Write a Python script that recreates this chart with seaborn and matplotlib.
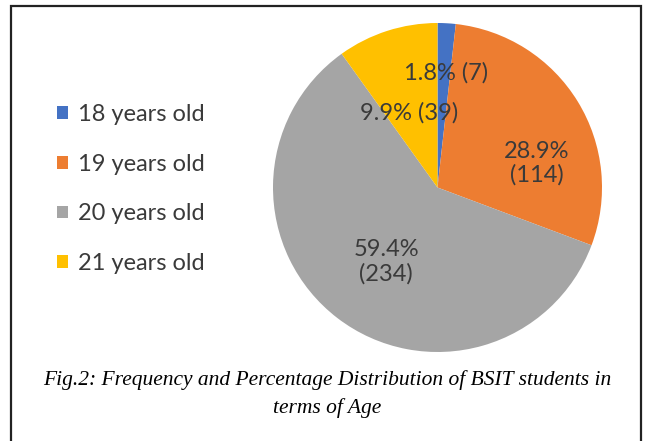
import numpy as np
import matplotlib
matplotlib.use("Agg")
import matplotlib.pyplot as plt
from matplotlib.patches import Rectangle
import seaborn as sns

# data
ages = ["18 years old", "19 years old", "20 years old", "21 years old"]
counts = [7, 114, 234, 39]
percents = [1.8, 28.9, 59.4, 9.9]
colors = ["#4472C4", "#ED7D31", "#A5A5A5", "#FFC000"]

sns.set_theme(style="white")
plt.rcParams["font.family"] = ["Lato", "DejaVu Sans"]

fig = plt.figure(figsize=(6.46, 4.41), dpi=100)
W, H = 646, 441

# pie axes: centre ~(437.5,187.5), radius ~164.5 px
ax = fig.add_axes([273 / W, (H - 352) / H, 329 / W, 329 / H])
wedges, _ = ax.pie(counts, colors=colors, startangle=90, counterclock=False,
                   radius=1.0, wedgeprops=dict(linewidth=0))
ax.set_xlim(-1.0, 1.0)
ax.set_ylim(-1.0, 1.0)
ax.set_aspect("equal")
ax.axis("off")
for w in wedges:
    w.set_clip_on(False)

# data labels (excel "best fit" style placement)
lab_r = [0.70, 0.62, 0.55, 0.485]
lab_da = [-1, -17.7, 2.8, 3]
for w, p, c, r, da in zip(wedges, percents, counts, lab_r, lab_da):
    mid = np.deg2rad((w.theta1 + w.theta2) / 2 + da)
    txt = f"{p}% ({c})" if c < 100 else f"{p}%\n({c})"
    ax.text(r * np.cos(mid), r * np.sin(mid), txt, ha="center", va="center",
            fontsize=17, color="#3a3a3a", linespacing=1.15)

# legend
leg = fig.legend(wedges, ages, loc="center left", bbox_to_anchor=(57 / W, 1 - 189 / H),
                 frameon=False, fontsize=17, handlelength=0.45, handleheight=0.45,
                 handletextpad=0.45, labelspacing=1.22, borderpad=0, borderaxespad=0,
                 labelcolor="#3a3a3a")

# caption
fig.text(327 / W, 1 - 380 / H,
         "Fig.2: Frequency and Percentage Distribution of BSIT students in",
         ha="center", va="center", fontsize=15.5, style="italic",
         family="Liberation Serif", color="black")
fig.text(327 / W, 1 - 408 / H, "terms of Age", ha="center", va="center",
         fontsize=15.5, style="italic", family="Liberation Serif", color="black")

# outer frame
fig.patches.append(Rectangle((11 / W, -0.1), 630 / W, 1.1 - 6 / H,
                             transform=fig.transFigure, fill=False,
                             edgecolor="#222222", linewidth=1.6))

fig.savefig("out.png", dpi=100)
